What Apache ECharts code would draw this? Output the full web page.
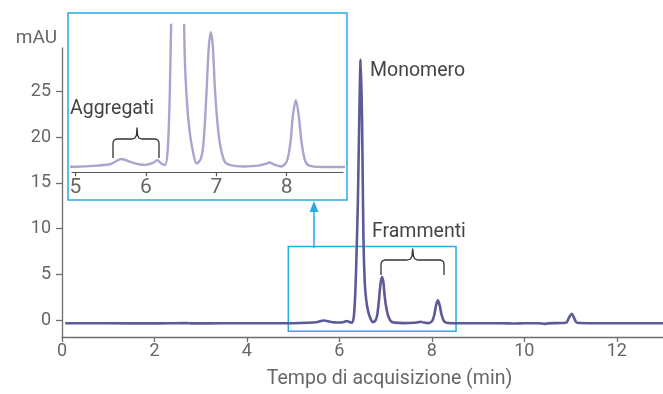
<!DOCTYPE html>
<html>
<head>
<meta charset="utf-8">
<script src="https://cdn.jsdelivr.net/npm/echarts@6.0.0/dist/echarts.min.js"></script>
<style>
  html, body { margin: 0; padding: 0; background: #fff; }
  #chart { width: 663px; height: 394px; }
</style>
</head>
<body>
<div id="chart"></div>
<script>
const times = [0.07, 1, 2, 2.7, 2.8, 3.5, 4.5, 5.0, 5.3, 5.5, 5.6, 5.65, 5.7, 5.8, 5.9, 6.0, 6.1, 6.16, 6.22, 6.27,
  6.31, 6.34, 6.37, 6.40, 6.43, 6.46, 6.49, 6.52, 6.55, 6.58, 6.62, 6.67, 6.72, 6.78, 6.82, 6.86, 6.89, 6.92, 6.95,
  6.98, 7.02, 7.06, 7.12, 7.2, 7.4, 7.6, 7.72, 7.76, 7.82, 7.92, 8.0, 8.05, 8.09, 8.13, 8.17, 8.21, 8.26, 8.32, 8.5,
  8.8, 9.0, 9.5, 9.8, 10.0, 10.3, 10.45, 10.5, 10.7, 10.9, 10.97, 11.03, 11.08, 11.14, 11.5, 12.5, 13];
const mAU = [-0.35, -0.35, -0.36, -0.33, -0.36, -0.35, -0.35, -0.34, -0.3, -0.24, -0.1, -0.05, -0.08, -0.18, -0.25, -0.27, -0.2, -0.1, -0.22, -0.28,
  0.3, 2.5, 7, 13, 22, 28.5, 22, 9, 4, 2.2, 1.0, 0.2, -0.22, -0.05, 0.6, 2.4, 4.0, 4.7, 4.2,
  2.6, 1.2, 0.4, -0.15, -0.28, -0.33, -0.3, -0.22, -0.18, -0.26, -0.33, -0.15, 0.5, 1.6, 2.15, 1.6, 0.6, -0.1, -0.3, -0.35,
  -0.35, -0.35, -0.34, -0.38, -0.35, -0.34, -0.42, -0.36, -0.33, -0.3, 0.3, 0.7, 0.2, -0.3, -0.35, -0.35, -0.35];

const xTicks = [0, 2, 4, 6, 8, 10, 12];
const yTicks = [0, 5, 10, 15, 20, 25];
const insetTicks = [5, 6, 7, 8];

const points = times.map((t, i) => [t, mAU[i]]);

const blue = '#29abe2';
const font = 'Roboto';

const chart = echarts.init(document.getElementById('chart'));

const option = {
  animation: false,
  grid: [
    { left: 62, top: 48, width: 601, height: 292 },
    { left: 72, top: 25, width: 271, height: 147.3 }
  ],
  xAxis: [
    {
      type: 'value', min: 0, max: 13,
      name: 'Tempo di acquisizione (min)',
      nameLocation: 'middle', nameGap: 32,
      nameTextStyle: { fontFamily: font, fontSize: 19.5, color: '#666', padding: [0, 0, 0, 54] },
      axisLine: { onZero: false, lineStyle: { color: '#6e6e6e', width: 1.3 } },
      axisTick: { inside: false, customValues: xTicks, length: 5, lineStyle: { color: '#6e6e6e', width: 1.3 } },
      axisLabel: { customValues: xTicks, fontFamily: font, fontSize: 18, color: '#666', margin: 5 },
      splitLine: { show: false }
    },
    {
      type: 'value', gridIndex: 1, min: 4.95, max: 8.8,
      axisLine: { onZero: false, lineStyle: { color: '#555', width: 1.2 } },
      axisTick: { inside: false, customValues: insetTicks, length: 4, lineStyle: { color: '#555', width: 1.2 } },
      axisLabel: { customValues: insetTicks, fontFamily: font, fontSize: 21, color: '#666', margin: 5 },
      splitLine: { show: false }
    }
  ],
  yAxis: [
    {
      type: 'value', min: -1.85, max: 29.75,
      name: 'mAU', nameLocation: 'end', nameGap: 0,
      nameTextStyle: { fontFamily: font, fontSize: 19, color: '#666', align: 'right', padding: [0, 5, 0, 0] },
      axisLine: { show: true, onZero: false, lineStyle: { color: '#6e6e6e', width: 1.3 } },
      axisTick: { show: true, inside: false, customValues: yTicks, length: 6, lineStyle: { color: '#6e6e6e', width: 1.3 } },
      axisLabel: { customValues: yTicks, fontFamily: font, fontSize: 18, color: '#666', margin: 11 },
      splitLine: { show: false }
    },
    { type: 'value', gridIndex: 1, min: -0.55, max: 4.97, show: false }
  ],
  series: [
    {
      type: 'line',
      data: points,
      showSymbol: false,
      smooth: 0.3,
      lineStyle: { color: '#5d5a98', width: 2.6 },
      markArea: {
        silent: true,
        itemStyle: { color: 'rgba(0,0,0,0)', borderColor: blue, borderWidth: 1.5 },
        data: [[{ coord: [4.895, 8.05] }, { coord: [8.523, -1.22] }]]
      }
    },
    {
      type: 'line',
      xAxisIndex: 1, yAxisIndex: 1,
      data: points,
      showSymbol: false,
      smooth: 0.3,
      lineStyle: { color: '#aaa5cf', width: 2.4 }
    }
  ],
  graphic: [
    // riquadro ingrandito
    { type: 'rect', shape: { x: 68, y: 13, width: 279, height: 187 }, style: { fill: 'none', stroke: blue, lineWidth: 1.5 } },
    // freccia
    { type: 'line', shape: { x1: 314, y1: 248, x2: 314, y2: 209 }, style: { stroke: blue, lineWidth: 1.5 } },
    { type: 'polygon', shape: { points: [[314, 201], [309.5, 212], [318.5, 212]] }, style: { fill: blue } },
    // parentesi graffe
    {
      type: 'polyline',
      shape: { points: [[113, 158], [113, 143], [113.5, 141], [115, 139.5], [117, 139], [132, 139], [135, 138], [136.5, 135], [137, 127.5],
        [137.5, 135], [139, 138], [142, 139], [155, 139], [157, 139.5], [158.5, 141], [159, 143], [159, 158]] },
      style: { fill: 'none', stroke: '#333', lineWidth: 1.3 }
    },
    {
      type: 'polyline',
      shape: { points: [[381, 275], [381, 264], [381.5, 262], [383, 260.5], [385, 260], [407, 260], [410.5, 259], [412, 256], [412.7, 248.5],
        [413.4, 256], [415, 259], [418, 260], [440, 260], [442, 260.5], [443.5, 262], [444, 264], [444, 275]] },
      style: { fill: 'none', stroke: '#333', lineWidth: 1.3 }
    },
    { type: 'text', left: 70, top: 99, style: { text: 'Aggregati', font: '19.5px Roboto', fill: '#444' } },
    { type: 'text', left: 370, top: 61, style: { text: 'Monomero', font: '19.5px Roboto', fill: '#444' } },
    { type: 'text', left: 372, top: 222, style: { text: 'Frammenti', font: '19.5px Roboto', fill: '#444' } }
  ]
};

chart.setOption(option);
</script>
</body>
</html>
